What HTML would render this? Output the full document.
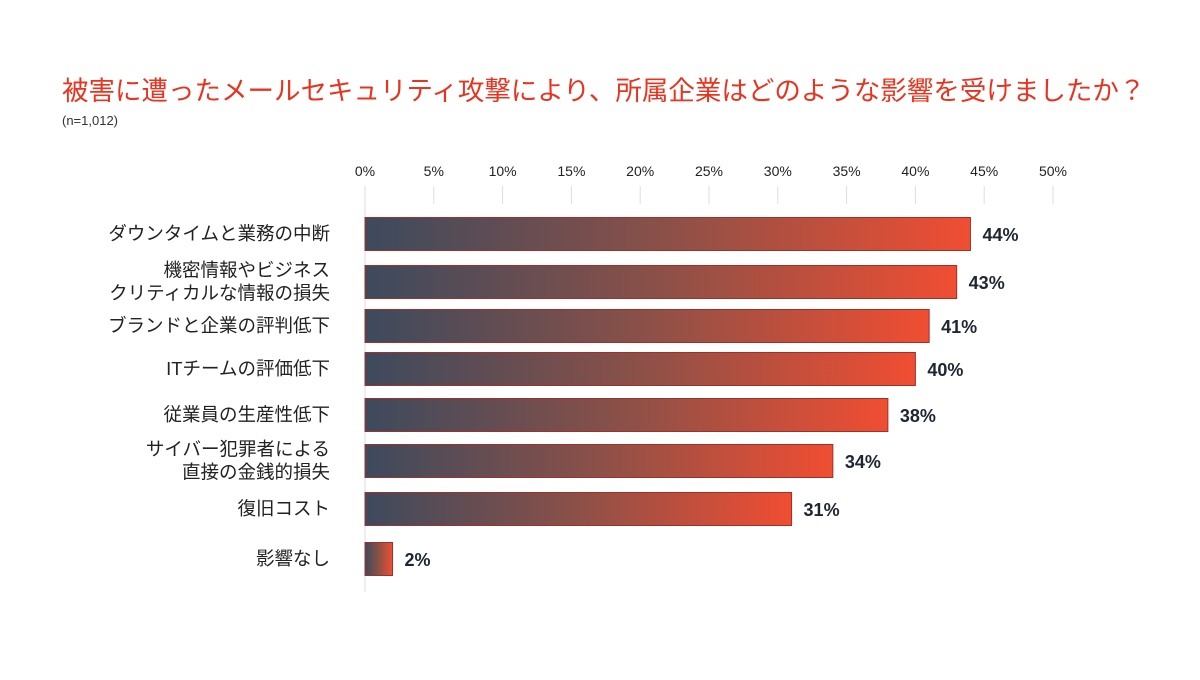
<!DOCTYPE html>
<html><head><meta charset="utf-8"><style>
body{margin:0;background:#fff;width:1200px;height:675px;overflow:hidden;font-family:"Liberation Sans","Noto Sans CJK JP",sans-serif}
</style></head><body>
<svg width="1200" height="675" xmlns="http://www.w3.org/2000/svg">
<defs><linearGradient id="g" x1="0" x2="1" y1="0" y2="0"><stop offset="0" stop-color="#3d4a5d"/><stop offset="0.5" stop-color="#8c5048"/><stop offset="1" stop-color="#f04e32"/></linearGradient></defs>
<text x="62" y="100" font-size="26.5" fill="#e8341f" font-family="Liberation Sans,Noto Sans CJK JP,sans-serif">被害に遭ったメールセキュリティ攻撃により、所属企業はどのような影響を受けましたか？</text>
<text x="62" y="125" font-size="13" fill="#333">(n=1,012)</text>
<g id="axis"></g><g id="bars"></g>
</svg>
<script>
const categories=[["ダウンタイムと業務の中断"],["機密情報やビジネス","クリティカルな情報の損失"],["ブランドと企業の評判低下"],["ITチームの評価低下"],["従業員の生産性低下"],["サイバー犯罪者による","直接の金銭的損失"],["復旧コスト"],["影響なし"]];
const values=[44,43,41,40,38,34,31,2];
const ticks=[0,5,10,15,20,25,30,35,40,45,50];
const centers=[234,282,326,369,415,461,509,559];
const NS="http://www.w3.org/2000/svg";
const x=v=>365+v*13.76;
function mk(t,a,p){const e=document.createElementNS(NS,t);for(const k in a)e.setAttribute(k,a[k]);p.appendChild(e);return e;}
const ax=document.getElementById('axis'),bg=document.getElementById('bars');
ticks.forEach(t=>{
 const l=mk('line',{x1:x(t),x2:x(t),y1:186,y2:t===0?592:204,stroke:'#ddd','stroke-width':1},ax);
 
 
 const tx=mk('text',{x:x(t),y:176,'text-anchor':'middle','font-size':14,fill:'#222'},ax);
 tx.textContent=t+'%';
 
 
});
values.forEach((v,i)=>{
 const c=centers[i];
 const r=mk('rect',{x:365,y:c-16.5,width:Math.max(x(v)-365,1),height:33,fill:'url(#g)',stroke:'#a0302a','stroke-width':1},bg);
 
 
 const lb=mk('text',{x:x(v)+12,y:c+7,'font-size':18,fill:'#1e2533','font-weight':'bold'},bg);
 lb.textContent=v+'%';
 
 
 const lines=categories[i];
 lines.forEach((s,j)=>{
  const tt=mk('text',{x:330,y:c+6+(j-(lines.length-1)/2)*23,'text-anchor':'end','font-size':18.5,fill:'#222'},bg);
  tt.textContent=s;
  
  
 });
});
</script>
</body></html>
